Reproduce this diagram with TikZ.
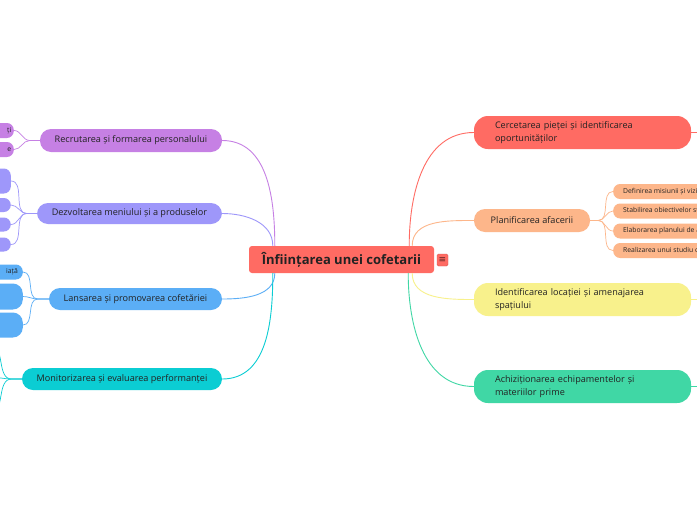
\documentclass[tikz,border=0pt]{standalone}
\usepackage{fontspec}
\setmainfont{Open Sans}
\newfontfamily\symfont{DejaVu Sans}
\usetikzlibrary{positioning, calc}

\definecolor{rootred}{HTML}{FF6B63}
\definecolor{peach}{HTML}{FDB68A}
\definecolor{lemon}{HTML}{F8F18C}
\definecolor{mint}{HTML}{40D7A5}
\definecolor{orchid}{HTML}{C680E4}
\definecolor{lavender}{HTML}{9E97FA}
\definecolor{sky}{HTML}{5BAEF6}
\definecolor{aqua}{HTML}{0BCDD3}
\definecolor{inktext}{HTML}{222222}

\tikzset{
  rootbox/.style={fill=rootred, rounded corners=3pt, minimum width=185pt, minimum height=27pt,
    inner sep=0pt, font=\fontsize{13}{15}\selectfont\bfseries, text=inktext},
  branch/.style={fill=#1, rounded corners=11pt, minimum height=22pt, inner sep=0pt,
    font=\fontsize{9.1}{11}\selectfont, text=inktext},
  widebranch/.style={fill=#1, rounded corners=14pt, minimum width=217pt, minimum height=33pt,
    text width=175pt, align=left, inner sep=0pt, font=\fontsize{9.1}{13}\selectfont, text=inktext},
  leafbox/.style={fill=#1, rounded corners=7pt, minimum height=15pt, inner ysep=0pt,
    font=\fontsize{6.8}{8}\selectfont, text=inktext},
  link/.style={draw=#1, line width=0.9pt},
  twig/.style={draw=#1, line width=0.7pt},
}

\begin{document}
\begin{tikzpicture}[x=1pt, y=-1pt]
    \clip (0,0) rectangle (697,520);
    \fill[white] (0,0) rectangle (697,520);

    % ---------------- ROOT ----------------
    \node[rootbox] (root) at (341.5,259.5) {Înființarea unei cofetarii};
    \node[fill=rootred, draw=rootred!85!black, rounded corners=1.5pt, minimum width=11pt, minimum height=12pt,
      inner sep=0pt, text=rootred!35!black, font=\symfont\fontsize{9}{9}\selectfont] (notes) at (442.5,260) {≡};

    % ---------------- RIGHT BRANCHES ----------------
    \node[widebranch=rootred] (market) at (582.5,132.5) {Cercetarea pieței și identificarea\\oportunităților};
    \node[branch=peach, minimum width=116pt, minimum height=23pt] (plan) at (532,220.5) {Planificarea afacerii};
    \node[widebranch=lemon] (place) at (582.5,299.5) {Identificarea locației și amenajarea\\spațiului};
    \node[widebranch=mint] (equip) at (582.5,386.5) {Achiziționarea echipamentelor și\\materiilor prime};

    % Plan leaves
    \node[leafbox=peach, anchor=west, inner xsep=10pt] (plan1) at (613,191.5) {Definirea misiunii și viziunii};
    \node[leafbox=peach, anchor=west, inner xsep=10pt] (plan2) at (613,211) {Stabilirea obiectivelor strategice};
    \node[leafbox=peach, anchor=west, inner xsep=10pt] (plan3) at (613,231) {Elaborarea planului de afaceri};
    \node[leafbox=peach, anchor=west, inner xsep=10pt] (plan4) at (613,250.5) {Realizarea unui studiu de piață};

    % ---------------- LEFT BRANCHES ----------------
    \node[branch=orchid, minimum width=182pt, minimum height=23pt] (staff) at (131,140.5) {Recrutarea și formarea personalului};
    \node[branch=lavender, minimum width=185pt, minimum height=21pt] (menu) at (129.5,213.5) {Dezvoltarea meniului și a produselor};
    \node[branch=sky, minimum width=173pt] (launch) at (135.5,299) {Lansarea și promovarea cofetăriei};
    \node[branch=aqua, minimum width=200pt] (monitor) at (122,379) {Monitorizarea și evaluarea performanței};

    % Left leaves (cut by the page edge)
    \node[leafbox=orchid, anchor=east, text width=50pt, align=right, inner xsep=2.5pt] (staff1) at (14,130.5) {ți};
    \node[leafbox=orchid, anchor=east, text width=50pt, align=right, inner xsep=2.5pt] (staff2) at (14,149.5) {e};

    \node[leafbox=lavender, anchor=east, minimum width=50pt, minimum height=25pt] (menu1) at (11,181) {};
    \node[leafbox=lavender, anchor=east, minimum width=50pt, minimum height=14pt] (menu2) at (11,205) {};
    \node[leafbox=lavender, anchor=east, minimum width=50pt, minimum height=14pt] (menu3) at (11,224.5) {};
    \node[leafbox=lavender, anchor=east, minimum width=50pt, minimum height=14pt] (menu4) at (11,244.5) {};

    \node[leafbox=sky, anchor=east, text width=50pt, align=right, inner xsep=5pt] (launch1) at (23,272) {iață};
    \node[leafbox=sky, anchor=east, minimum width=60pt, minimum height=26pt, rounded corners=10pt] (launch2) at (23,296.5) {};
    \node[leafbox=sky, anchor=east, minimum width=60pt, minimum height=25pt, rounded corners=10pt] (launch3) at (23,325) {};

    \coordinate (mon1) at (-10,345);
    \coordinate (mon2) at (-10,377);
    \coordinate (mon3) at (-10,413);

    % ---------------- CONNECTORS ----------------
    \draw[link=orchid] ([xshift=26pt]root.north west) to[out=90,in=0] (staff.east);
    \draw[link=lavender] ([xshift=24pt]root.north west) to[out=90,in=0] (menu.east);
    \draw[link=sky] ([xshift=26pt]root.south west) to[out=-90,in=0] (launch.east);
    \draw[link=aqua] ([xshift=24pt]root.south west) to[out=-90,in=0] (monitor.east);

    \draw[link=rootred] ([xshift=-25pt]root.north east) to[out=90,in=180] (market.west);
    \draw[link=peach] ([xshift=-22pt]root.north east) to[out=90,in=180] (plan.west);
    \draw[link=lemon] ([xshift=-22pt]root.south east) to[out=-90,in=180] (place.west);
    \draw[link=mint] ([xshift=-26pt]root.south east) to[out=-90,in=180] (equip.west);

    \draw[link=rootred] (market.east) -- ++(12,0);
    \draw[link=lemon] (place.east) -- ++(12,0);
    \draw[link=mint] (equip.east) -- ++(12,0);

    % Leaf connectors
    \foreach \leaf in {plan1,plan2,plan3,plan4}
        \draw[twig=peach] (plan.east) -- ++(8,0) to[out=0,in=180] (\leaf.west);
    \foreach \leaf in {staff1,staff2}
        \draw[twig=orchid] (staff.west) -- ++(-10,0) to[out=180,in=0] (\leaf.east);
    \foreach \leaf in {menu1,menu2,menu3,menu4}
        \draw[twig=lavender] (menu.west) -- ++(-10,0) to[out=180,in=0] (\leaf.east);
    \foreach \leaf in {launch1,launch2,launch3}
        \draw[twig=sky] (launch.west) -- ++(-11,0) to[out=180,in=0] (\leaf.east);
    \foreach \leaf in {mon1,mon2,mon3}
        \draw[twig=aqua] (monitor.west) -- ++(-10,0) to[out=180,in=0] (\leaf);
\end{tikzpicture}
\end{document}
